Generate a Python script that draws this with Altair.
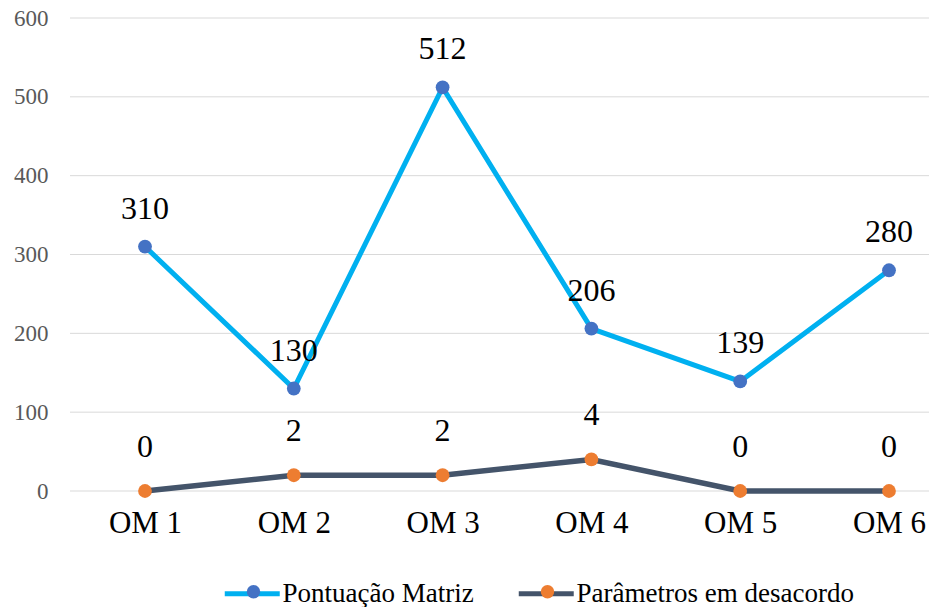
import altair as alt
import pandas as pd

categorias = ["OM 1", "OM 2", "OM 3", "OM 4", "OM 5", "OM 6"]
pontuacao = [310, 130, 512, 206, 139, 280]
parametros = [0, 2, 2, 4, 0, 0]
y_ticks = [0, 100, 200, 300, 400, 500, 600]
series_names = ["Pontuação Matriz", "Parâmetros em desacordo"]
marker_names = [n + " " for n in series_names]
line_colors = ["#00B0F0", "#44546A"]
marker_colors = ["#4472C4", "#ED7D31"]

FONT = "Liberation Serif"

df_a = pd.DataFrame({"cat": categorias, "valor": pontuacao,
                     "serie": series_names[0], "serie_pt": marker_names[0]})
df_b = pd.DataFrame({"cat": categorias, "valor": parametros,
                     "serie": series_names[1], "serie_pt": marker_names[1]})
df_grid = pd.DataFrame({"valor": y_ticks})

x_enc = alt.X("cat:N", sort=categorias,
              scale=alt.Scale(type="point", range=[75, 819], padding=0),
              axis=alt.Axis(title=None, labelAngle=0, domain=False, ticks=False,
                            tickSize=0, grid=False, labelFont=FONT, labelFontSize=31,
                            labelColor="#000000", labelPadding=17))

stroke_enc = alt.Stroke("serie:N",
                        scale=alt.Scale(domain=series_names, range=line_colors),
                        legend=alt.Legend(title=None, orient="none", legendX=165.75, legendY=559,
                                          direction="horizontal", symbolType="M-2,0L2,0",
                                          symbolSize=756, symbolStrokeWidth=5,
                                          labelFont=FONT, labelFontSize=27, labelOffset=13.75,
                                          columnPadding=35, labelColor="#000000", labelLimit=0))
fill_enc = alt.Fill("serie_pt:N",
                    scale=alt.Scale(domain=marker_names, range=marker_colors),
                    legend=alt.Legend(title=None, orient="none", legendX=170, legendY=560,
                                      direction="horizontal", symbolType="circle",
                                      symbolSize=180, symbolStrokeWidth=0, symbolOpacity=1,
                                      labelFont=FONT, labelFontSize=27, labelOffset=0,
                                      labelExpr="''",
                                      columnPadding=267, labelLimit=0))

y_axis = alt.Axis(title=None, values=y_ticks, grid=False,
                  domain=False, ticks=False, tickSize=0, labelPadding=22,
                  labelFont=FONT, labelFontSize=23, labelColor="#595959")
y_a = alt.Y("valor:Q", scale=alt.Scale(domain=[0, 600]), axis=y_axis)
y_b = alt.Y("valor:Q", scale=alt.Scale(domain=[0, 60]), axis=None)

grid = alt.Chart(df_grid).mark_rule(color="#D9D9D9", strokeWidth=1).encode(
    y=y_a, x=alt.value(0), x2=alt.value(859))


def series_layer(df, y_enc, dy, lw):
    base = alt.Chart(df)
    line = base.mark_line(strokeWidth=lw).encode(x=x_enc, y=y_enc, stroke=stroke_enc)
    pts = base.mark_circle(size=190, opacity=1).encode(x=x_enc, y=y_enc, fill=fill_enc)
    txt = base.mark_text(dy=dy, font=FONT, fontSize=32, color="#000000").encode(
        x=x_enc, y=y_enc, text="valor:Q")
    return alt.layer(line, pts, txt)


chart = alt.layer(
    alt.layer(grid, series_layer(df_a, y_a, -38, 5)),
    series_layer(df_b, y_b, -44, 5.5),
).resolve_scale(y="independent").properties(
    width=859, height=473,
    autosize=alt.AutoSizeParams(type="none"),
    padding={"left": 70, "top": 18, "right": 0, "bottom": 116},
).configure_view(stroke=None).configure_legend(labelFont=FONT)

chart.save("out.html", embed_options={"renderer": "svg", "actions": False})
